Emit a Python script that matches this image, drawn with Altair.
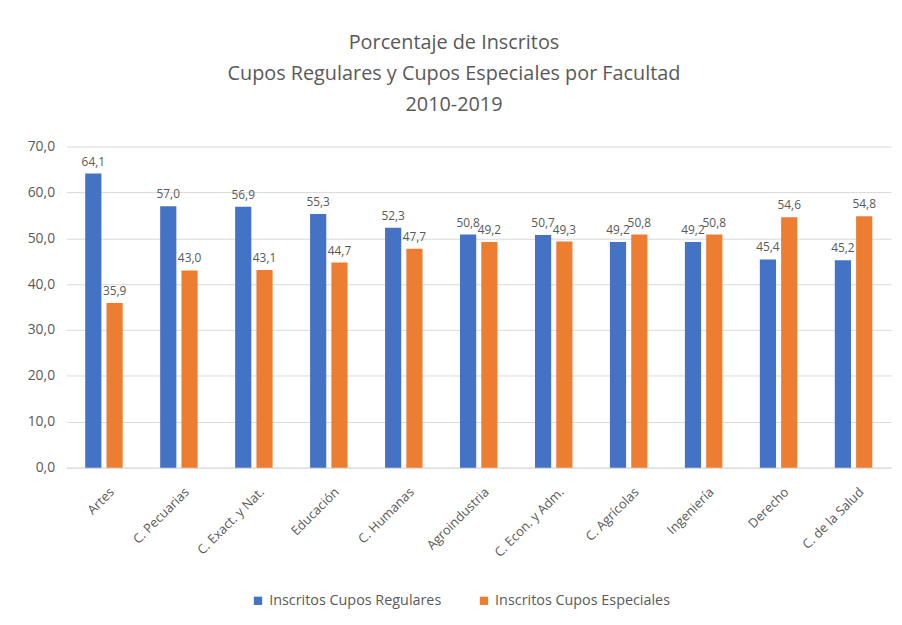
import altair as alt
import pandas as pd

facultades = ["Artes", "C. Pecuarias", "C. Exact. y Nat.", "Educación", "C. Humanas",
              "Agroindustria", "C. Econ. y Adm.", "C. Agrícolas", "Ingeniería", "Derecho",
              "C. de la Salud"]
regulares = [64.1, 57.0, 56.9, 55.3, 52.3, 50.8, 50.7, 49.2, 49.2, 45.4, 45.2]
especiales = [35.9, 43.0, 43.1, 44.7, 47.7, 49.2, 49.3, 50.8, 50.8, 54.6, 54.8]
series = ["Inscritos Cupos Regulares", "Inscritos Cupos Especiales"]
colors = ["#4472C4", "#ED7D31"]

rows = []
for i, f in enumerate(facultades):
    rows.append({"Facultad": f, "Serie": series[0], "Valor": regulares[i]})
    rows.append({"Facultad": f, "Serie": series[1], "Valor": especiales[i]})
df = pd.DataFrame(rows)

FONT = "Open Sans"
GRAY = "#595959"

x = alt.X("Facultad:N", sort=facultades, title=None,
          scale=alt.Scale(paddingInner=0.5, paddingOuter=0.25),
          axis=alt.Axis(labelAngle=-45, labelAlign="right", labelBaseline="top",
                        labelPadding=18, labelOffset=4, ticks=False, domainColor="#d9d9d9",
                        labelColor=GRAY, labelFontSize=13, labelFont=FONT))
xo = alt.XOffset("Serie:N", sort=series, scale=alt.Scale(paddingInner=0.24))
y = alt.Y("Valor:Q", title=None,
          scale=alt.Scale(domain=[0, 70]),
          axis=alt.Axis(values=[0, 10, 20, 30, 40, 50, 60, 70], domain=False, ticks=False,
                        gridColor="#d9d9d9", labelColor=GRAY, labelFontSize=14,
                        labelFont=FONT, labelPadding=12,
                        labelExpr="replace(format(datum.value, '.1f'), '.', ',')"))

base = alt.Chart(df).encode(x=x, xOffset=xo, y=y)

bars = base.mark_bar().encode(
    color=alt.Color("Serie:N", sort=series,
                    scale=alt.Scale(domain=series, range=colors),
                    legend=alt.Legend(title=None, orient="none", legendX=186, legendY=451,
                                      direction="horizontal", symbolType="square",
                                      symbolSize=70, labelFontSize=14.5, labelColor=GRAY,
                                      labelFont=FONT, labelLimit=0, columnPadding=35,
                                      symbolStrokeWidth=0))
)

labels = base.mark_text(dy=-12, fontSize=12, color=GRAY, font=FONT).encode(
    text=alt.Text("lbl:N")
).transform_calculate(lbl="replace(format(datum.Valor, '.1f'), '.', ',')")

chart = alt.layer(bars, labels).properties(
    width=832, height=324,
    title=alt.TitleParams(
        ["Porcentaje de Inscritos", "Cupos Regulares y Cupos Especiales por Facultad", "2010-2019"],
        fontSize=20, font=FONT, color=GRAY, fontWeight="normal", lineHeight=31,
        anchor="middle", dx=-25, offset=25),
    autosize=alt.AutoSizeParams(type="none"),
    padding={"left": 59, "top": 137, "right": 3, "bottom": 156},
    background="white",
).configure_view(stroke=None)

chart.save("out.html", embed_options={"renderer": "svg", "actions": False})
